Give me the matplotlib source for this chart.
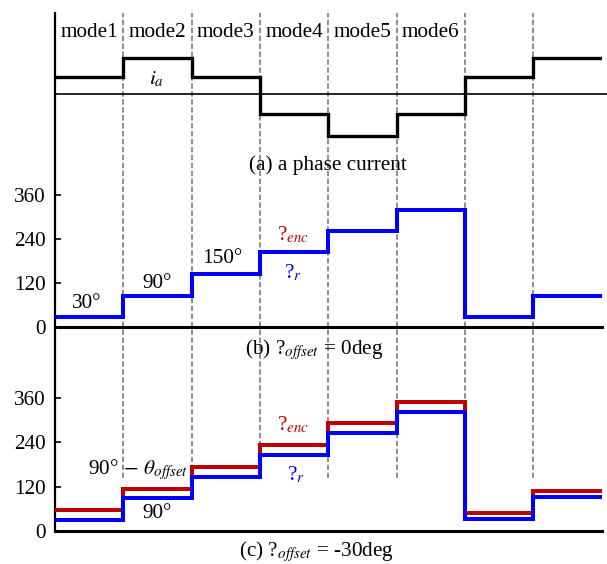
import numpy as np
import matplotlib
matplotlib.use("Agg")
import matplotlib.pyplot as plt

plt.rcParams['font.family'] = ['Liberation Serif', 'DejaVu Serif']
plt.rcParams['mathtext.fontset'] = 'stix'

# data
modes = ["mode1", "mode2", "mode3", "mode4", "mode5", "mode6"]
edges = np.arange(9)                                   # 8 intervals of 60 deg
i_a = [0.93, 1.9, 0.93, -1.05, -2.18, -1.05, 0.93, 1.9]
theta_r_b = [26, 84, 144, 204, 262, 320, 26, 84]       # panel (b), offset 0
theta_r_c = [29, 90, 146, 206, 265, 322, 31, 91]       # panel (c)
theta_enc_c = [56, 114, 172, 233, 292, 351, 49, 109]
yticks = [0, 120, 240, 360]

RED = "#c00000"
BLUE = "#0000ff"
FS = 15.3

W, H = 607, 564
fig = plt.figure(figsize=(W / 100, H / 100), dpi=100)


def box(l, t, r, b):
    return [l / W, 1 - b / H, (r - l) / W, (b - t) / H]


# overlay: left axis line + dashed mode boundaries
ov = fig.add_axes(box(55, 13, 601.7, 531))
ov.set_xlim(0, 8)
ov.set_ylim(0, 1)
ov.patch.set_alpha(0)
for s in ["top", "right", "bottom"]:
    ov.spines[s].set_visible(False)
ov.spines["left"].set_linewidth(1.6)
ov.set_xticks([])
ov.set_yticks([])
for x in edges[1:-1]:
    ov.axvline(x, ymin=(531 - 478) / (531 - 13), ymax=1, color="#858585",
               lw=1.3, ls=(0, (3, 1.4)))

# (a) phase current
ax_a = fig.add_axes(box(55, 13, 601.7, 180))
ax_a.set_xlim(0, 8)
ax_a.set_ylim(-4.51, 4.28)
ax_a.axis("off")
ax_a.axhline(0, xmin=0, xmax=(607 - 55) / (601.7 - 55), color="black",
             lw=1.2, clip_on=False)
ax_a.stairs(i_a, edges, baseline=None, color="black", lw=2.4, joinstyle="miter")
for k, m in enumerate(modes):
    ax_a.text(k + 0.5, 3.23, m, ha="center", va="center", fontsize=FS)
ax_a.text(1.49, 0.8, "$i_a$", ha="center", va="center", fontsize=FS)
ax_a.text(4.0, -3.72, "(a) a phase current", ha="center", va="center",
          fontsize=FS, clip_on=False)


def angle_axes(rect, top):
    ax = fig.add_axes(rect)
    ax.patch.set_alpha(0)
    ax.set_xlim(0, 8)
    ax.set_ylim(0, top)
    for s in ["top", "right", "left"]:
        ax.spines[s].set_visible(False)
    ax.spines["bottom"].set_linewidth(2.2)
    ax.set_xticks([])
    ax.set_yticks(yticks)
    ax.tick_params(axis="y", direction="in", length=4.5, width=1.2, pad=7,
                   labelsize=FS)
    return ax


# (b) theta_offset = 0
ax_b = angle_axes(box(55, 185, 601.7, 326.5), (326.5 - 185) / 0.3653)
ax_b.stairs(theta_r_b, edges, baseline=None, color=BLUE, lw=2.9, joinstyle="miter")
ax_b.text(0.46, 63, "30°", ha="center", va="center", fontsize=FS)
ax_b.text(1.5, 118, "90°", ha="center", va="center", fontsize=FS)
ax_b.text(2.44, 187, "150°", ha="center", va="center", fontsize=FS)
ax_b.text(3.49, 250, "?$_{enc}$", color=RED, ha="center", va="center", fontsize=FS)
ax_b.text(3.48, 146, "?$_{r}$", color=BLUE, ha="center", va="center", fontsize=FS)
ax_b.text(3.8, -63, "(b) ?$_{offset}$ = 0deg", ha="center", va="center",
          fontsize=FS, clip_on=False)

# (c) theta_offset = -30
ax_c = angle_axes(box(55, 385, 601.7, 530.7), (530.7 - 385) / 0.3678)
ax_c.stairs(theta_enc_c, edges, baseline=None, color=RED, lw=2.9, joinstyle="miter")
ax_c.stairs(theta_r_c, edges, baseline=None, color=BLUE, lw=2.9, joinstyle="miter")
ax_c.text(1.22, 165, r"90°$\,-\,\theta_{offset}$", ha="center", va="center",
          fontsize=FS)
ax_c.text(1.49, 47, "90°", ha="center", va="center", fontsize=FS)
ax_c.text(3.48, 287, "?$_{enc}$", color=RED, ha="center", va="center", fontsize=FS)
ax_c.text(3.53, 151, "?$_{r}$", color=BLUE, ha="center", va="center", fontsize=FS)
ax_c.text(3.83, -56, "(c) ?$_{offset}$ = -30deg", ha="center", va="center",
          fontsize=FS, clip_on=False)

fig.savefig("out.png", dpi=100)
